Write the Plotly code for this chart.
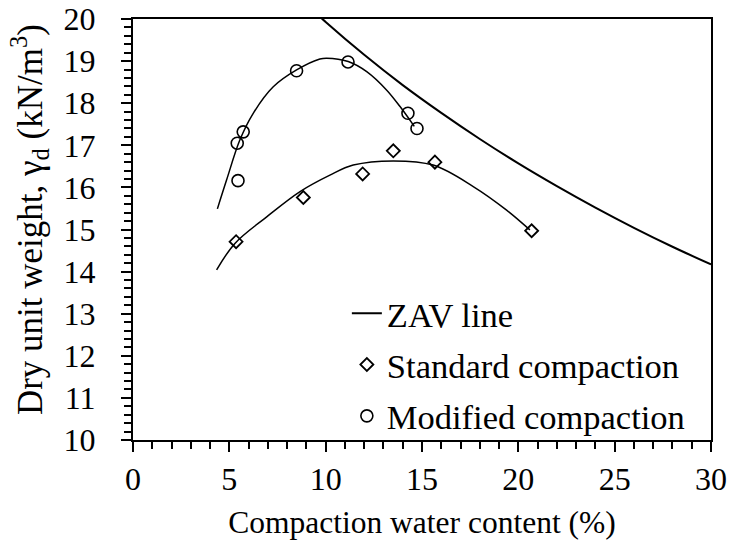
import plotly.graph_objects as go

# ---- data ----
zav_w = [9.5, 10, 12, 14, 16, 18, 20, 22, 24, 26, 28, 30]
zav_g = [20.14, 19.93, 19.15, 18.43, 17.77, 17.15, 16.57, 16.03, 15.52, 15.04, 14.59, 14.17]

std_w = [5.35, 8.84, 11.92, 13.51, 15.67, 20.69]
std_g = [14.71, 15.76, 16.32, 16.87, 16.60, 14.97]

mod_w = [5.41, 5.72, 5.45, 8.49, 11.16, 14.27, 14.74]
mod_g = [17.05, 17.32, 16.16, 18.77, 18.98, 17.76, 17.40]

std_fit_w = [4.34, 5.29, 6.94, 8.67, 10.22, 11.43, 13.51, 15.58, 17.66, 19.39, 20.60]
std_fit_g = [14.04, 14.67, 15.30, 15.90, 16.29, 16.53, 16.63, 16.53, 16.02, 15.46, 14.99]

mod_fit_w = [4.38, 4.86, 5.55, 6.24, 7.28, 8.49, 9.70, 10.05, 11.17, 12.13, 13.17, 13.86, 14.60]
mod_fit_g = [15.49, 16.18, 17.13, 17.76, 18.39, 18.79, 19.05, 19.07, 18.99, 18.75, 18.31, 17.92, 17.45]

x_ticks = [0, 5, 10, 15, 20, 25, 30]
y_ticks = list(range(10, 21))

FONT = "Liberation Serif, Times New Roman, serif"

fig = go.Figure()
fig.add_trace(go.Scatter(x=zav_w, y=zav_g, mode="lines", name="ZAV line", legendgroup="a",
                         line=dict(color="black", width=2, shape="spline")))
fig.add_trace(go.Scatter(x=std_fit_w, y=std_fit_g, mode="lines", showlegend=False,
                         line=dict(color="black", width=1.5, shape="spline")))
fig.add_trace(go.Scatter(x=mod_fit_w, y=mod_fit_g, mode="lines", showlegend=False,
                         line=dict(color="black", width=1.5, shape="spline")))
fig.add_trace(go.Scatter(x=std_w, y=std_g, mode="markers", name="Standard compaction",
                         legendgroup="b",
                         marker=dict(symbol="diamond-open", size=10, color="black",
                                     line=dict(width=1.8, color="black"))))
fig.add_trace(go.Scatter(x=mod_w, y=mod_g, mode="markers", name="Modified compaction",
                         legendgroup="c",
                         marker=dict(symbol="circle-open", size=12, color="black",
                                     line=dict(width=1.6, color="black"))))

fig.update_layout(
    width=730, height=546,
    margin=dict(l=133, r=19, t=19, b=106, autoexpand=False),
    paper_bgcolor="white", plot_bgcolor="white",
    font=dict(family=FONT, size=32, color="black"),
    showlegend=True,
    legend=dict(x=0.37, y=0.37, xanchor="left", yanchor="top",
                bgcolor="rgba(0,0,0,0)", font=dict(size=34.5, family=FONT),
                itemwidth=30, tracegroupgap=3.5, traceorder="grouped"),
    annotations=[dict(text="Dry unit weight, γ<sub>d</sub> (kN/m<sup>3</sup>)",
                      xref="paper", yref="paper", x=-0.178, y=0.5226,
                      xanchor="center", yanchor="middle", textangle=-90,
                      showarrow=False, font=dict(size=35, family=FONT, color="black"))],
)
fig.update_xaxes(
    range=[0, 30], tickvals=x_ticks, showgrid=False, zeroline=False, automargin=False,
    showline=True, linewidth=2, linecolor="black", mirror=True,
    ticks="outside", ticklen=10, tickwidth=2, tickcolor="black",
    minor=dict(dtick=1, ticks="outside", ticklen=7, tickwidth=1.5, tickcolor="black"),
    tickfont=dict(size=32, family=FONT), ticklabelstandoff=0, ticklabeloverflow="allow",
    title=dict(text="Compaction water content (%)", font=dict(size=31.5, family=FONT), standoff=15),
)
fig.update_yaxes(
    range=[10, 20], tickvals=y_ticks, showgrid=False, zeroline=False, automargin=False,
    showline=True, linewidth=2, linecolor="black", mirror=True,
    ticks="outside", ticklen=10, tickwidth=2, tickcolor="black",
    minor=dict(dtick=0.2, ticks="outside", ticklen=7, tickwidth=1.5, tickcolor="black"),
    tickfont=dict(size=32, family=FONT), ticklabelstandoff=19, ticklabeloverflow="allow",
)

fig.write_html("out.html", config={"displayModeBar": False},
               post_script="document.body.style.margin='0';document.body.style.overflow='hidden';")
